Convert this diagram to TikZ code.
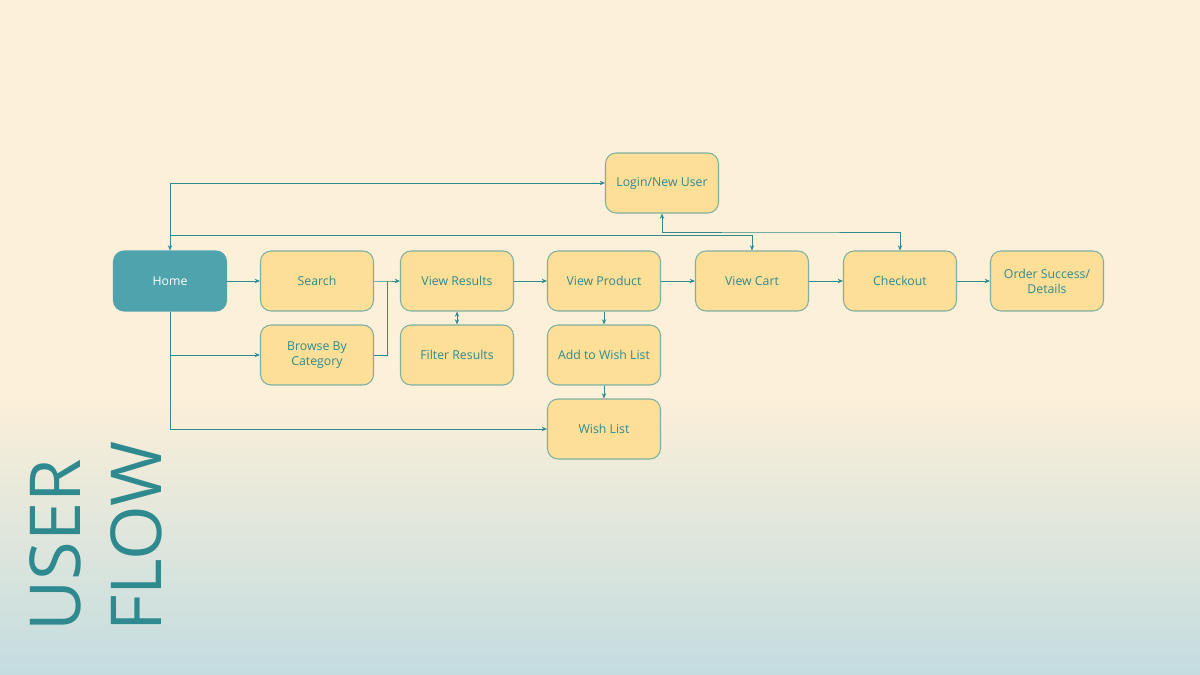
\documentclass[tikz,border=0pt]{standalone}
\usepackage{fontspec}
\setmainfont{Open Sans}
\usetikzlibrary{positioning,arrows.meta}
\definecolor{cream}{HTML}{FDF0D8}
\definecolor{paleblue}{HTML}{C3DCE0}
\definecolor{boxfill}{HTML}{FDDF98}
\definecolor{boxline}{HTML}{7DB0A0}
\definecolor{teal}{HTML}{2E8A8E}
\definecolor{homefill}{HTML}{4FA3AC}
\tikzset{
  step box/.style={
    rectangle, rounded corners=6pt, fill=boxfill, draw=boxline, line width=0.6pt,
    minimum width=2.26cm, minimum height=1.2cm, text=teal, align=center,
    font=\fontsize{7}{8.5}\selectfont,
  },
  home box/.style={step box, fill=homefill, draw=homefill, text=white},
  flow/.style={draw=teal, line width=0.5pt, -{Stealth[length=3pt,width=2.5pt]}},
  big title/.style={rotate=90, anchor=south west, inner sep=0pt, text=teal,
    font=\fontsize{40}{40}\selectfont},
}
\begin{document}
\begin{tikzpicture}[x=0.02cm, y=-0.02cm, node distance=0.28cm]
  \fill[cream] (0,0) rectangle (1200,390);
  \shade[top color=cream, bottom color=paleblue] (0,390) rectangle (1200,675);
  \useasboundingbox (0,0) rectangle (1200,675);

  \node [home box] (home) at (170,281) {Home};
  \node [step box] (search) at (317,281) {Search};
  \node [step box] (results) at (457,281) {View Results};
  \node [step box] (product) at (604,281) {View Product};
  \node [step box] (cart) at (752,281) {View Cart};
  \node [step box] (checkout) at (900,281) {Checkout};
  \node [step box] (order) at (1047,281) {Order Success/\\Details};
  \node [step box] (browse) at (317,355) {Browse By\\Category};
  \node [step box] (filter) at (457,355) {Filter Results};
  \node [step box] (addwish) at (604,355) {Add to Wish List};
  \node [step box] (wish) at (604,429) {Wish List};
  \node [step box] (login) at (662,183) {Login/New User};

  \node [big title] (user) at (82,632) {USER};
  \node [big title] (flowtitle) at (163,632) {FLOW};

  \coordinate (junction) at (387,281);
  \draw [flow] (home) -- (search);
  \draw [flow] (search.east) -- (junction) -- (results.west);
  \draw [draw=teal, line width=0.5pt] (browse.east) -| (junction);
  \draw [flow] (home.south) |- (browse.west);
  \draw [flow] (home.south) |- (wish.west);
  \draw [flow, {Stealth[length=3pt,width=2.5pt]}-{Stealth[length=3pt,width=2.5pt]}] (home.north) |- (login.west);
  \draw [flow] (home.north) ++(0,-15) -| (cart.north);
  \draw [flow, {Stealth[length=3pt,width=2.5pt]}-{Stealth[length=3pt,width=2.5pt]}] (login.south) |- (780,232) -| (checkout.north);
  \draw [flow, {Stealth[length=3pt,width=2.5pt]}-{Stealth[length=3pt,width=2.5pt]}] (results) -- (filter);
  \draw [flow] (results) -- (product);
  \draw [flow] (product) -- (cart);
  \draw [flow] (cart) -- (checkout);
  \draw [flow] (checkout) -- (order);
  \draw [flow] (product) -- (addwish);
  \draw [flow] (addwish) -- (wish);
\end{tikzpicture}
\end{document}
